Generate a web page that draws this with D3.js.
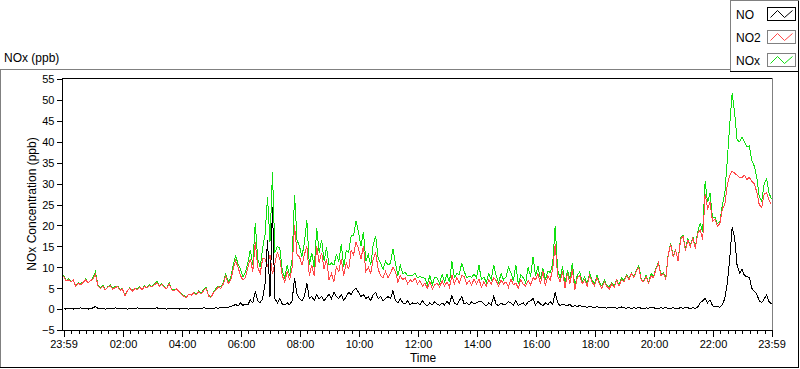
<!DOCTYPE html>
<html>
<head>
<meta charset="utf-8">
<script src="https://cdn.jsdelivr.net/npm/d3@7"></script>
<style>
  html, body { margin: 0; padding: 0; background: #fff; }
  svg { display: block; }
  text { font-family: "Liberation Sans", Arial, sans-serif; fill: #000; }
</style>
</head>
<body>
<svg id="chart" width="800" height="369"></svg>
<script>
// ---- data (5-minute samples, starting 23:59) ----
const seriesNames = ["NO", "NO2", "NOx"];
const xTickLabels = ["23:59","02:00","04:00","06:00","08:00","10:00","12:00","14:00","16:00","18:00","20:00","22:00","23:59"];
const xTickMinutes = [0,121,241,361,481,601,721,841,961,1081,1201,1321,1440];
const yTicks = [-5,0,5,10,15,20,25,30,35,40,45,50,55];
const sampleStepMin = 5;

const NO = [
0.1,0.0,0.2,0.1,0.0,0.2,0.1,0.3,0.1,0.2,0.0,0.1,
0.3,0.6,0.2,0.1,0.2,0.0,0.1,0.2,0.1,0.3,0.1,0.2,
0.1,0.2,0.0,0.1,0.2,0.1,0.3,0.1,0.0,0.2,0.1,0.2,
0.1,0.2,0.3,0.1,0.2,0.1,0.0,0.2,0.1,0.2,0.1,0.0,
0.1,0.2,0.1,0.0,0.2,0.1,0.1,0.2,0.1,0.3,0.2,0.1,
0.2,0.1,0.3,0.2,0.4,0.3,0.5,0.4,0.6,0.8,1.1,0.7,
1.5,0.9,1.2,1.0,2.2,1.5,4.2,2.0,1.5,2.5,6.0,16.5,
3.0,24.5,2.5,1.5,2.5,1.2,1.0,1.5,1.0,2.0,7.4,3.5,
2.5,2.0,3.0,6.2,2.5,3.0,2.0,3.5,2.5,3.0,2.0,2.8,
3.5,2.5,4.0,3.0,2.5,3.5,2.0,3.0,4.0,3.5,4.5,5.0,
4.0,3.0,3.5,2.5,3.0,2.0,3.5,4.0,2.5,3.0,2.0,2.5,
3.0,2.5,4.4,2.0,1.5,2.5,1.5,1.2,2.0,1.0,1.5,1.2,
1.5,1.0,2.0,1.2,0.8,1.5,1.0,1.8,1.2,0.9,1.5,1.0,
1.8,1.2,3.3,1.5,1.0,2.0,3.0,1.2,1.5,1.0,1.8,1.2,
1.5,1.8,1.8,1.2,0.8,1.5,1.0,3.0,1.2,0.8,1.5,1.0,
1.2,1.8,1.5,1.0,2.0,0.9,1.2,1.5,0.8,1.8,2.0,2.5,
1.0,1.8,1.2,0.8,1.5,1.0,1.8,1.2,4.0,1.5,0.8,1.2,
1.0,0.8,1.2,0.5,0.8,0.6,0.9,0.5,0.7,0.4,0.6,0.5,
0.4,0.6,0.3,0.5,0.4,0.2,0.5,0.3,0.4,0.2,0.3,0.5,
0.3,0.2,0.4,0.1,0.3,0.2,0.4,0.2,0.1,0.3,0.2,0.5,
0.3,0.2,0.1,0.3,0.2,0.4,0.1,0.2,0.3,0.1,0.2,0.3,
0.2,0.4,0.3,0.1,0.3,0.2,0.5,1.5,2.0,2.5,1.5,2.2,
0.8,0.5,0.6,0.4,1.0,2.5,6.0,12.0,19.5,17.0,10.5,8.6,
9.5,8.0,7.8,7.5,5.0,4.2,3.6,2.0,1.5,2.4,3.4,1.8,
1.2];

const NO2 = [
8.0,6.8,7.0,6.5,6.9,5.4,6.2,5.8,6.4,7.0,6.3,6.8,
7.2,8.3,5.6,4.9,5.5,4.6,5.2,5.6,4.8,5.1,5.4,4.5,
4.8,3.1,4.4,5.0,4.3,4.9,4.6,5.2,4.7,5.4,5.0,5.6,
5.3,5.8,6.3,5.5,5.9,5.2,4.9,6.1,4.6,4.4,4.8,4.2,
3.5,3.0,2.8,3.6,3.3,3.9,3.4,4.2,3.6,4.4,5.0,3.1,
2.8,3.9,4.6,5.3,4.9,6.0,7.9,6.2,6.8,9.5,11.6,10.0,
8.0,6.9,7.5,10.0,12.0,9.0,16.0,10.0,8.5,12.0,12.0,10.3,
13.0,8.3,11.0,13.5,12.0,8.0,6.5,9.0,7.0,10.0,20.0,13.0,
12.5,10.5,13.0,15.1,8.0,10.5,7.8,15.0,11.0,13.5,9.5,12.0,
7.0,8.5,6.5,10.0,9.0,12.0,8.0,11.0,9.5,14.0,13.0,16.0,
14.5,12.0,15.0,9.0,10.0,8.5,12.0,13.5,9.5,8.0,7.5,9.0,
7.5,8.5,10.0,9.0,6.5,8.0,7.0,7.5,6.0,7.0,6.5,7.5,
6.0,6.8,5.5,6.2,5.0,6.5,4.8,5.8,6.2,5.2,6.8,5.5,
6.5,5.2,8.1,6.0,7.5,6.2,8.0,7.8,6.0,6.8,5.8,7.2,
6.0,7.2,5.2,6.5,5.5,7.0,6.0,7.5,6.8,5.5,7.0,6.0,
6.5,5.2,7.2,5.8,6.2,5.0,7.0,6.0,5.5,6.8,5.8,7.5,
7.0,8.5,6.0,9.0,5.5,8.0,7.0,9.5,15.5,8.0,6.5,9.0,
5.0,8.5,6.0,9.5,4.5,7.5,8.0,6.0,7.0,5.5,8.0,6.5,
5.5,7.5,6.0,5.0,6.5,5.5,4.8,6.0,5.2,6.8,5.5,7.0,
6.5,8.0,7.0,8.5,7.5,9.0,10.0,7.0,6.5,7.8,6.2,8.0,
7.5,9.5,11.0,8.0,8.5,7.2,13.0,15.5,12.5,14.0,11.5,16.5,
17.5,14.0,16.5,15.0,17.0,14.5,18.0,19.0,16.5,27.5,24.0,25.5,
21.0,21.5,19.8,20.5,24.0,25.0,29.5,32.0,33.0,32.5,32.0,31.5,
31.5,32.0,31.0,31.5,30.5,30.0,28.0,25.0,24.2,27.5,27.8,26.0,
25.0];

const NOX = [
8.1,6.8,7.2,6.6,6.9,5.6,6.3,6.1,6.5,7.2,6.3,6.9,
7.5,8.9,5.8,5.0,5.7,4.6,5.3,5.8,4.9,5.4,5.5,4.7,
4.9,3.3,4.4,5.1,4.5,5.0,4.9,5.3,4.7,5.6,5.1,5.8,
5.4,6.0,6.6,5.6,6.1,5.3,4.9,6.3,4.7,4.6,4.9,4.2,
3.6,3.2,2.9,3.6,3.5,4.0,3.5,4.4,3.7,4.7,5.2,3.2,
3.0,4.0,4.9,5.5,5.3,6.3,8.4,6.6,7.4,10.3,12.9,10.7,
9.5,7.8,8.7,11.0,14.2,10.5,20.6,12.0,10.0,14.5,17.9,26.8,
16.0,32.8,13.5,15.0,14.5,9.2,7.5,10.5,8.0,12.0,27.2,16.5,
15.0,12.5,16.0,21.3,10.5,13.5,9.8,19.3,13.5,16.5,11.5,14.8,
10.5,11.0,10.5,13.0,11.5,15.5,10.0,14.0,13.5,17.5,17.5,21.0,
18.5,15.0,18.5,11.5,13.0,10.5,15.5,17.5,12.0,11.0,9.5,11.5,
10.5,11.0,14.4,11.0,8.0,10.5,8.5,8.7,8.0,8.0,8.0,8.7,
7.5,7.8,7.5,7.4,5.8,8.0,5.8,7.6,7.4,6.1,8.3,6.5,
8.3,6.4,11.4,7.5,8.5,8.2,11.0,9.0,7.5,7.8,7.6,8.4,
7.5,10.5,7.0,7.7,6.3,8.5,7.0,10.5,8.0,6.3,8.5,7.0,
7.7,10.0,8.7,6.8,10.5,5.9,8.2,7.5,6.3,10.0,7.8,12.5,
8.0,10.3,7.2,9.8,7.0,9.0,8.8,10.7,19.8,9.5,7.3,10.2,
6.0,9.3,7.2,11.0,5.3,8.1,8.9,6.5,7.7,5.9,8.6,7.0,
5.9,8.1,6.3,5.5,6.9,5.7,5.3,6.3,5.6,7.0,5.8,7.5,
6.8,8.2,7.4,8.6,7.8,9.2,10.4,7.2,6.6,8.1,6.4,8.5,
7.8,9.7,11.1,8.3,8.7,7.6,13.1,15.7,12.8,14.1,11.7,17.0,
17.7,14.4,16.8,15.1,17.3,14.7,18.5,20.5,18.5,30.5,25.5,27.7,
21.8,22.0,20.4,20.9,25.0,27.5,35.5,44.0,51.7,47.0,40.5,40.0,
41.0,40.0,38.8,39.0,35.5,34.2,31.6,27.0,25.7,29.9,31.2,27.8,
26.2];

const colors = { NO: "#000000", NO2: "#ff4848", NOx: "#10e010" };

// ---- drawing ----
const svg = d3.select("#chart");
const x = d3.scaleLinear().domain([0, 1440]).range([63.5, 771.5]);
const y = d3.scaleLinear().domain([-5, 55]).range([330, 79]);

// outer panel frame
const frame = svg.append("g").attr("shape-rendering", "crispEdges");
frame.append("line").attr("x1", 0).attr("x2", 730).attr("y1", 69.5).attr("y2", 69.5).attr("stroke", "#808080");
frame.append("line").attr("x1", 0.5).attr("x2", 0.5).attr("y1", 69.5).attr("y2", 368).attr("stroke", "#808080");
frame.append("line").attr("x1", 0).attr("x2", 799).attr("y1", 367.5).attr("y2", 367.5).attr("stroke", "#000");
frame.append("line").attr("x1", 798.5).attr("x2", 798.5).attr("y1", 0).attr("y2", 368).attr("stroke", "#000");
// legend box
frame.append("line").attr("x1", 730.5).attr("x2", 730.5).attr("y1", 0).attr("y2", 72).attr("stroke", "#808080");
frame.append("line").attr("x1", 730).attr("x2", 799).attr("y1", 0.5).attr("y2", 0.5).attr("stroke", "#808080");
frame.append("line").attr("x1", 730).attr("x2", 799).attr("y1", 71.5).attr("y2", 71.5).attr("stroke", "#000");

// title
svg.append("text").attr("x", 4).attr("y", 62).attr("font-size", 12).text("NOx (ppb)");

// plot frame
frame.append("line").attr("x1", 62).attr("x2", 773).attr("y1", 78.5).attr("y2", 78.5).attr("stroke", "#000");
frame.append("line").attr("x1", 772.5).attr("x2", 772.5).attr("y1", 78).attr("y2", 331).attr("stroke", "#808080");

// axes
const yAxis = d3.axisLeft(y).tickValues(yTicks).tickSize(6).tickPadding(2).tickFormat(d3.format("d"));
const gy = svg.append("g").attr("transform", "translate(62.5,0)").call(yAxis);
gy.select(".domain").attr("d", `M0,78V331`).attr("stroke", "#000");
gy.selectAll("line").attr("stroke", "#000");
gy.selectAll("text").attr("font-size", 11).attr("font-family", "Liberation Sans, Arial, sans-serif").attr("fill", "#000").attr("dy", "0.35em");
gy.attr("shape-rendering", "crispEdges");

const minorTicks = d3.range(1, 1440, 15);
const xMinor = d3.axisBottom(x).tickValues(minorTicks).tickSize(3).tickFormat("");
const gxm = svg.append("g").attr("transform", "translate(0,330.5)").call(xMinor).attr("shape-rendering", "crispEdges");
gxm.select(".domain").remove();
gxm.selectAll("line").attr("stroke", "#000");

const xAxis = d3.axisBottom(x).tickValues(xTickMinutes).tickSize(6).tickPadding(4)
  .tickFormat((d, i) => xTickLabels[i]);
const gx = svg.append("g").attr("transform", "translate(0,330.5)").call(xAxis).attr("shape-rendering", "crispEdges");
gx.select(".domain").attr("d", "M62,0H773").attr("stroke", "#000");
gx.selectAll("line").attr("stroke", "#000");
gx.selectAll("text").attr("font-size", 11).attr("font-family", "Liberation Sans, Arial, sans-serif").attr("fill", "#000");

// axis titles
svg.append("text").attr("x", 423).attr("y", 362).attr("text-anchor", "middle").attr("font-size", 12).text("Time");
svg.append("text").attr("transform", "translate(36,204) rotate(-90)").attr("text-anchor", "middle")
  .attr("font-size", 12).text("NOx Concentration (ppb)");

// series
const line = d3.line().x((d, i) => x(i * sampleStepMin)).y(d => y(d));
const plot = svg.append("g");
[["NOx", NOX], ["NO2", NO2], ["NO", NO]].forEach(([name, data]) => {
  plot.append("path").datum(data).attr("d", line)
    .attr("fill", "none").attr("stroke", colors[name]).attr("stroke-width", 1)
    .attr("shape-rendering", "crispEdges");
});

// legend
const leg = svg.append("g");
seriesNames.forEach((name, i) => {
  const top = 7.5 + i * 23;
  leg.append("text").attr("x", 736).attr("y", top + 11).attr("font-size", 12).text(name);
  const bx = 767.5, bw = 28, bh = 13;
  leg.append("rect").attr("x", bx).attr("y", top).attr("width", bw).attr("height", bh)
    .attr("fill", "#fff").attr("stroke", i === 0 ? "#000" : "#808080").attr("shape-rendering", "crispEdges");
  const pts = [[bx + 3, top + bh - 3], [bx + 10, top + 3], [bx + 17, top + bh - 3], [bx + 25, top + 3]];
  leg.append("path").attr("d", d3.line()(pts)).attr("fill", "none").attr("stroke", colors[name]).attr("stroke-width", 1);
});
</script>
</body>
</html>
